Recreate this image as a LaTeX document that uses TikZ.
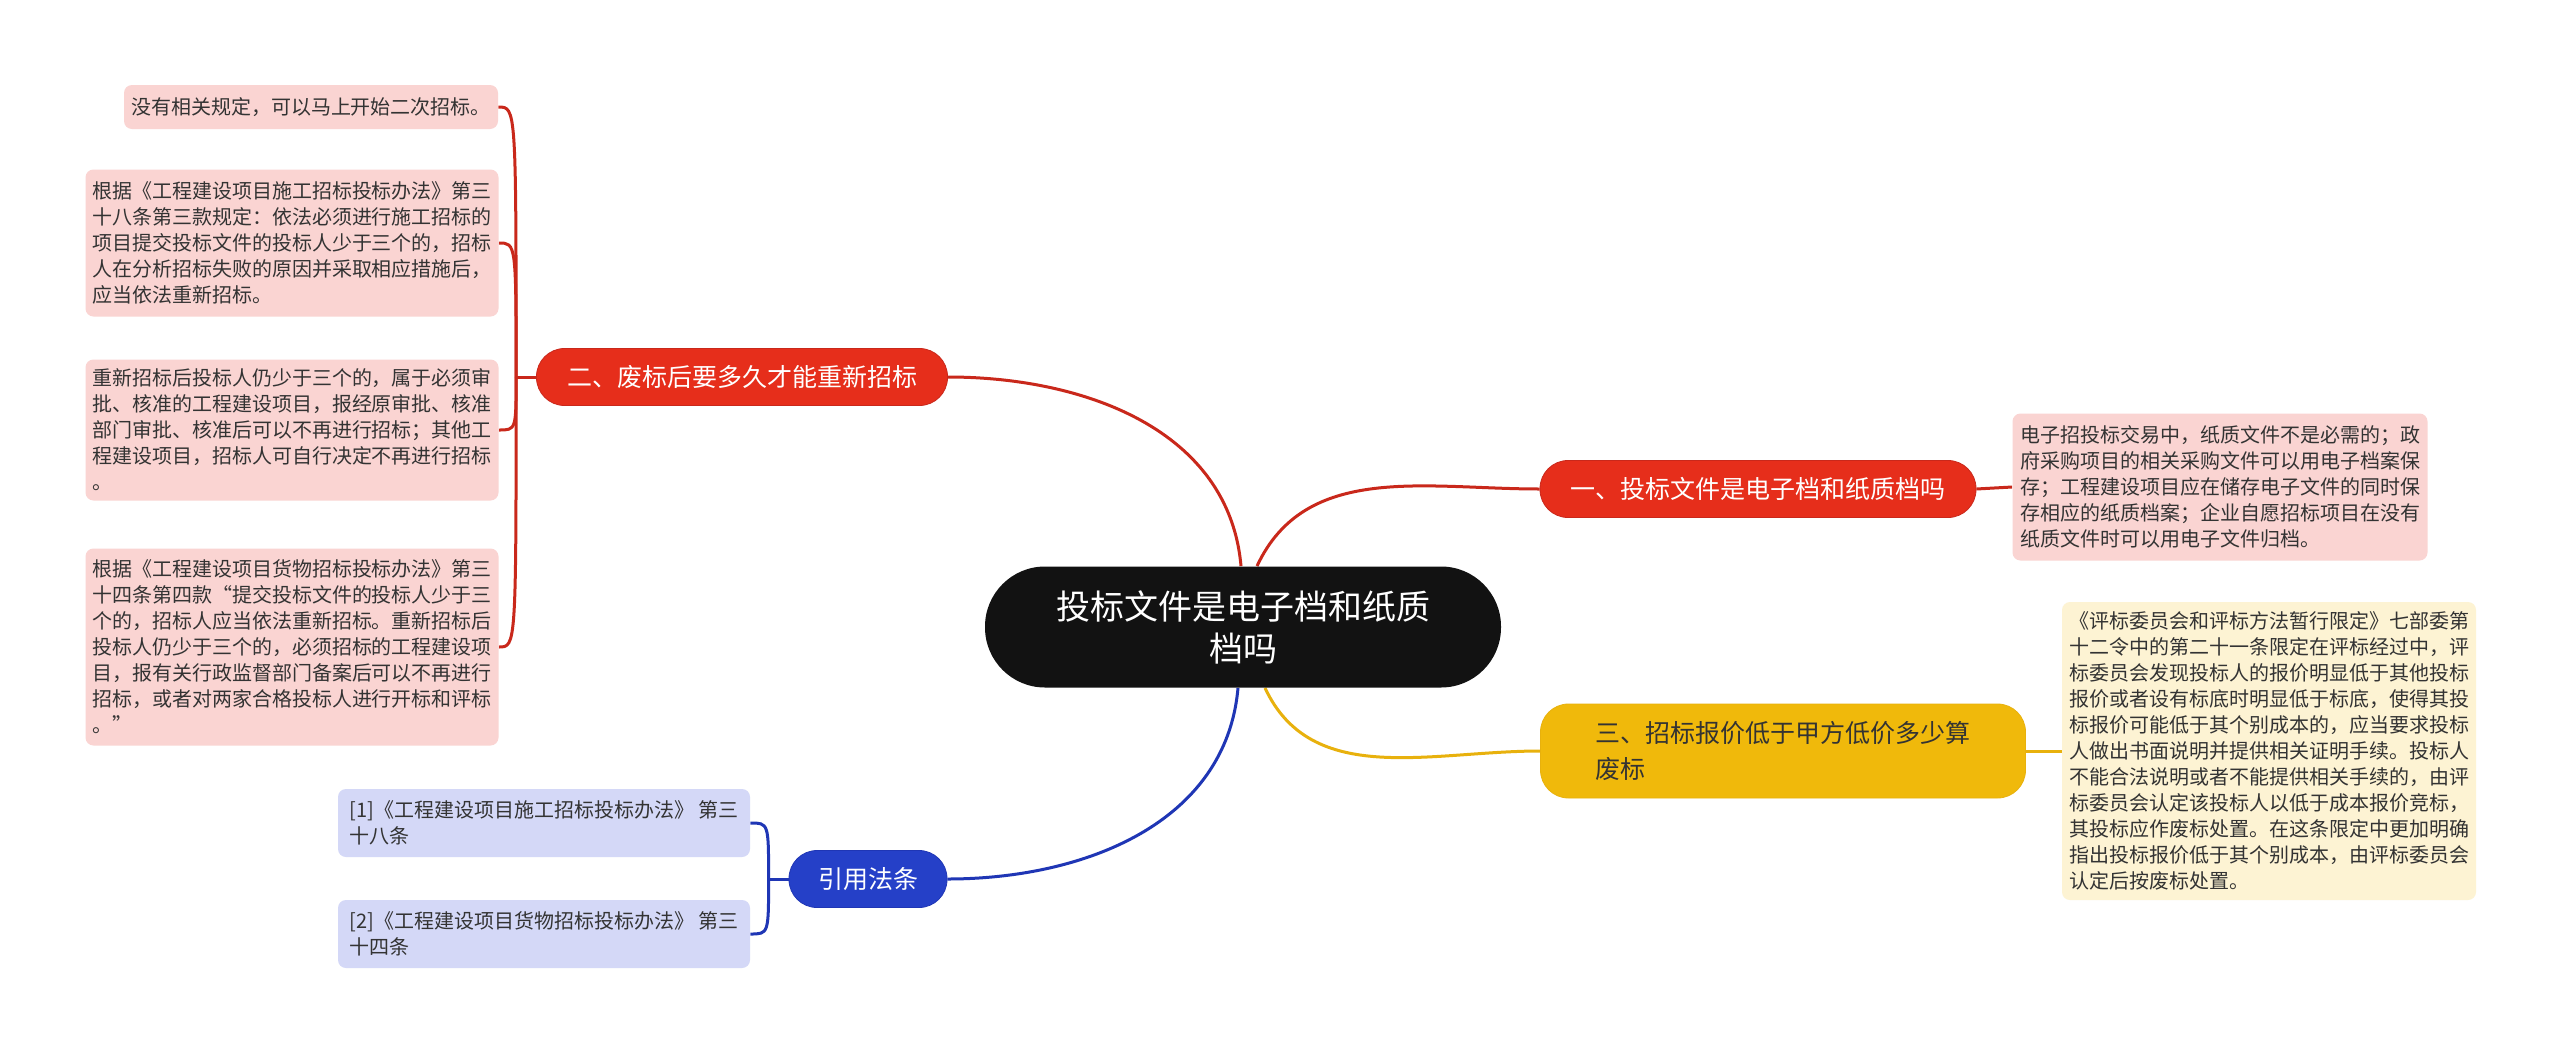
\documentclass[tikz,border=0pt]{standalone}
\usepackage{fontspec}
\newfontfamily\cjk{Noto Sans CJK SC}
\usepackage{tikz}
\usetikzlibrary{backgrounds}
\definecolor{rouge}{HTML}{E62E1B}
\definecolor{rougetrait}{HTML}{C9281B}
\definecolor{rose}{HTML}{FAD4D2}
\definecolor{jaune}{HTML}{F0B90B}
\definecolor{jaunetrait}{HTML}{E8B10D}
\definecolor{creme}{HTML}{FDF3D3}
\definecolor{bleu}{HTML}{2540C8}
\definecolor{bleutrait}{HTML}{1F36B5}
\definecolor{lavande}{HTML}{D4D8F7}
\definecolor{encre}{HTML}{333333}
\tikzset{centre/.style={fill=black!93,text=white,rounded corners=30pt,align=center,font=\cjk\fontsize{17pt}{21pt}\selectfont,minimum width=258pt,minimum height=60.5pt},branche/.style={text=white,rounded corners=14pt,align=left,font=\cjk\fontsize{12.5pt}{18pt}\selectfont,minimum height=28.5pt},feuille/.style={rounded corners=4pt,align=left,text=encre,font=\cjk\fontsize{10pt}{13pt}\selectfont,inner xsep=3pt,inner ysep=3pt},lien/.style={line width=1.5pt}}

\begin{document}
\begin{tikzpicture}[x=0.5pt,y=-0.5pt]
\useasboundingbox (0,0) rectangle (2560,1055);
\node[centre] (hub) at (1243,627) {投标文件是电子档和纸质\\档吗};
% droite
\node[branche,fill=rouge,draw=rougetrait,minimum width=218pt] (b1) at (1758,489) {一、投标文件是电子档和纸质档吗};
\node[feuille,fill=rose,minimum width=207.5pt,minimum height=73.5pt] (f1) at (2220,487) {电子招投标交易中，纸质文件不是必需的；政\\府采购项目的相关采购文件可以用电子档案保\\存；工程建设项目应在储存电子文件的同时保\\存相应的纸质档案；企业自愿招标项目在没有\\纸质文件时可以用电子文件归档。};
\node[branche,fill=jaune,draw=jaunetrait,text=encre,minimum width=242.5pt,minimum height=47pt] (b3) at (1783,751) {三、招标报价低于甲方低价多少算\\废标};
\node[feuille,fill=creme,minimum width=207pt,minimum height=149pt] (f3) at (2269,751) {《评标委员会和评标方法暂行限定》七部委第\\十二令中的第二十一条限定在评标经过中，评\\标委员会发现投标人的报价明显低于其他投标\\报价或者设有标底时明显低于标底，使得其投\\标报价可能低于其个别成本的，应当要求投标\\人做出书面说明并提供相关证明手续。投标人\\不能合法说明或者不能提供相关手续的，由评\\标委员会认定该投标人以低于成本报价竞标，\\其投标应作废标处置。在这条限定中更加明确\\指出投标报价低于其个别成本，由评标委员会\\认定后按废标处置。};
% gauche
\node[branche,fill=rouge,draw=rougetrait,minimum width=205.5pt] (b2) at (742,377) {二、废标后要多久才能重新招标};
\node[feuille,fill=rose,minimum width=187pt,minimum height=22pt] (l21) at (311,107) {没有相关规定，可以马上开始二次招标。};
\node[feuille,fill=rose,minimum width=206.5pt,minimum height=73.5pt] (l22) at (292,243) {根据《工程建设项目施工招标投标办法》第三\\十八条第三款规定：依法必须进行施工招标的\\项目提交投标文件的投标人少于三个的，招标\\人在分析招标失败的原因并采取相应措施后，\\应当依法重新招标。};
\node[feuille,fill=rose,minimum width=206.5pt,minimum height=70.5pt] (l23) at (292,430) {重新招标后投标人仍少于三个的，属于必须审\\批、核准的工程建设项目，报经原审批、核准\\部门审批、核准后可以不再进行招标；其他工\\程建设项目，招标人可自行决定不再进行招标\\。};
\node[feuille,fill=rose,minimum width=206.5pt,minimum height=98.5pt] (l24) at (292,647) {根据《工程建设项目货物招标投标办法》第三\\十四条第四款“提交投标文件的投标人少于三\\个的，招标人应当依法重新招标。重新招标后\\投标人仍少于三个的，必须招标的工程建设项\\目，报有关行政监督部门备案后可以不再进行\\招标，或者对两家合格投标人进行开标和评标\\。”};
\node[branche,fill=bleu,draw=bleutrait,minimum width=79pt] (b4) at (868,879) {引用法条};
\node[feuille,fill=lavande,minimum width=206pt,minimum height=34pt] (r1) at (544,823) {[1]《工程建设项目施工招标投标办法》 第三\\十八条};
\node[feuille,fill=lavande,minimum width=206pt,minimum height=34pt] (r2) at (544,934) {[2]《工程建设项目货物招标投标办法》 第三\\十四条};
\coordinate (j2) at ([xshift=-10pt]b2.west);
\coordinate (j4) at ([xshift=-10pt]b4.west);
\begin{scope}[on background layer]
\fill[white] (0,0) rectangle (2560,1055);
\draw[lien,rougetrait] ([xshift=-1pt]hub.north) to[out=95,in=0] (b2.east);
\draw[lien,rougetrait] ([xshift=7pt]hub.north) to[out=65,in=180] (b1.west);
\draw[lien,jaunetrait] ([xshift=11pt]hub.south) to[out=-65,in=180] (b3.west);
\draw[lien,bleutrait] ([xshift=-2.5pt]hub.south) to[out=-95,in=0] (b4.east);
\draw[lien,rougetrait] (b1.east) -- (f1.west);
\draw[lien,jaunetrait] (b3.east) -- (f3.west);
\draw[lien,rougetrait] (b2.west) -- (j2);
\draw[lien,rougetrait] (j2) .. controls (j2 |- l21.east) .. (l21.east);
\draw[lien,rougetrait] (j2) .. controls (j2 |- l22.east) .. (l22.east);
\draw[lien,rougetrait] (j2) .. controls (j2 |- l23.east) .. (l23.east);
\draw[lien,rougetrait] (j2) .. controls (j2 |- l24.east) .. (l24.east);
\draw[lien,bleutrait] (b4.west) -- (j4);
\draw[lien,bleutrait] (j4) .. controls (j4 |- r1.east) .. (r1.east);
\draw[lien,bleutrait] (j4) .. controls (j4 |- r2.east) .. (r2.east);
\end{scope}
\end{tikzpicture}
\end{document}
